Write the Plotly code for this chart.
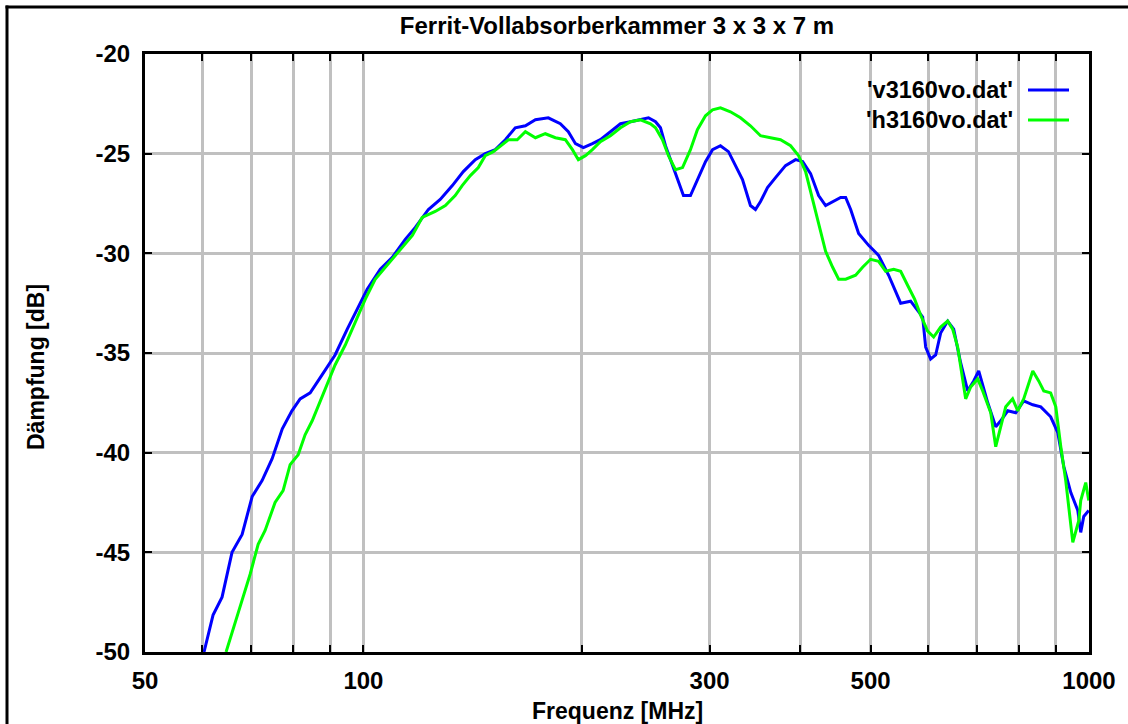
import plotly.graph_objects as go

# ---- data (frequency in MHz, attenuation in dB) ----
v_freq = [60.3, 62.05, 63.85, 65.9, 68.05, 70.25, 72.5, 74.85, 77.3, 79.7,
          81.8, 84.45, 87.7, 91.4, 95.0, 98.0, 101.2, 105.5, 109.6, 114.2,
          117.9, 122.9, 127.6, 132.6, 137.3, 142.6, 147.2, 152.0, 156.9, 161.9,
          167.2, 172.6, 179.8, 186.8, 191.6, 196.0, 201.0, 206.8, 212.1, 219.0,
          226.1, 233.4, 240.9, 247.1, 252.7, 256.7, 260.8, 266.7, 271.8, 276.1,
          282.3, 288.6, 296.1, 302.8, 310.5, 318.5, 325.6, 333.0, 341.5, 347.0,
          352.6, 360.5, 369.8, 381.7, 394.1, 403.0, 413.3, 424.0, 433.5, 443.3,
          454.7, 462.0, 469.4, 481.4, 496.9, 512.9, 529.5, 550.1, 567.8, 589.9,
          595.5, 605.0, 614.7, 624.5, 638.6, 650.9, 665.5, 680.5, 693.6, 704.7,
          725.2, 743.8, 755.7, 772.7, 792.5, 812.8, 836.6, 858.1, 885.5, 905.7,
          923.2, 943.9, 965.1, 974.1, 983.5, 999.2]
v_db = [-50.0, -48.15, -47.25, -45.0, -44.1, -42.2, -41.4, -40.3, -38.8, -37.9,
        -37.3, -37.0, -36.1, -35.1, -33.8, -32.8, -31.8, -30.8, -30.2, -29.3,
        -28.7, -27.8, -27.3, -26.6, -25.9, -25.3, -25.0, -24.8, -24.3, -23.7,
        -23.6, -23.3, -23.2, -23.5, -23.9, -24.5, -24.7, -24.5, -24.3, -23.9,
        -23.5, -23.4, -23.3, -23.2, -23.4, -23.7, -24.6, -25.6, -26.4, -27.1,
        -27.1, -26.3, -25.4, -24.8, -24.6, -24.9, -25.6, -26.3, -27.6, -27.8,
        -27.4, -26.7, -26.2, -25.6, -25.3, -25.4, -26.0, -27.1, -27.6, -27.4,
        -27.2, -27.2, -27.8, -29.0, -29.6, -30.1, -31.1, -32.5, -32.4, -33.2,
        -34.7, -35.3, -35.1, -34.0, -33.4, -33.8, -35.5, -36.9, -36.4, -35.9,
        -37.5, -38.7, -38.4, -37.9, -38.0, -37.4, -37.6, -37.7, -38.2, -39.0,
        -40.7, -42.0, -42.9, -44.0, -43.2, -42.9]

h_freq = [64.67, 66.55, 68.05, 69.8, 71.6, 73.2, 75.55, 77.5, 79.25, 81.3,
          83.1, 85.0, 87.2, 89.1, 91.4, 94.4, 97.4, 100.6, 103.8, 107.8,
          112.4, 116.8, 120.5, 125.6, 129.7, 133.8, 136.8, 140.4, 144.0, 147.2,
          151.0, 154.4, 158.4, 162.9, 167.2, 172.6, 178.1, 183.9, 189.8, 194.1,
          197.8, 202.3, 206.8, 212.1, 219.0, 226.1, 233.4, 240.9, 248.7, 252.7,
          258.3, 263.3, 269.2, 275.3, 282.3, 288.6, 296.1, 302.8, 310.5, 320.5,
          330.9, 341.5, 352.6, 364.0, 375.7, 387.9, 397.9, 406.8, 415.9, 424.0,
          433.5, 443.3, 451.8, 462.0, 476.8, 487.5, 500.0, 512.9, 524.5, 538.0,
          550.1, 562.3, 575.0, 586.1, 599.3, 610.8, 624.5, 638.6, 648.8, 659.2,
          676.1, 687.0, 702.4, 713.7, 732.1, 743.8, 755.7, 767.8, 784.7, 797.7,
          812.8, 836.6, 852.4, 866.3, 885.5, 900.0, 914.4, 928.8, 949.9, 968.2,
          974.1, 989.7, 999.2]
h_db = [-50.0, -48.6, -47.4, -46.1, -44.6, -43.9, -42.5, -41.9, -40.6, -40.1,
        -39.1, -38.4, -37.4, -36.6, -35.6, -34.6, -33.5, -32.3, -31.3, -30.6,
        -29.8, -29.1, -28.2, -27.9, -27.6, -27.1, -26.6, -26.1, -25.7, -25.1,
        -24.9, -24.6, -24.3, -24.3, -23.9, -24.2, -24.0, -24.2, -24.3, -24.8,
        -25.3, -25.1, -24.8, -24.4, -24.1, -23.7, -23.4, -23.3, -23.5, -23.7,
        -24.3, -25.1, -25.8, -25.7, -24.8, -23.8, -23.1, -22.8, -22.7, -22.9,
        -23.2, -23.6, -24.1, -24.2, -24.3, -24.6, -25.1, -25.9, -27.3, -28.6,
        -29.9, -30.7, -31.3, -31.3, -31.1, -30.7, -30.3, -30.4, -30.9, -30.8,
        -30.9, -31.6, -32.3, -33.1, -33.9, -34.2, -33.7, -33.4, -33.8, -34.7,
        -37.3, -36.7, -36.3, -36.9, -38.0, -39.7, -38.7, -37.7, -37.3, -37.9,
        -37.3, -35.9, -36.4, -36.9, -37.0, -37.7, -39.7, -41.4, -44.5, -43.4,
        -42.4, -41.5, -42.4]

x_tickvals = [50, 60, 70, 80, 90, 100, 200, 300, 400, 500, 600, 700, 800, 900, 1000]
x_ticktext = ["50", "", "", "", "", "100", "", "300", "", "500", "", "", "", "", "1000"]
y_tickvals = [-50, -45, -40, -35, -30, -25, -20]
y_ticktext = ["-50", "-45", "-40", "-35", "-30", "-25", "-20"]

title_text = "Ferrit-Vollabsorberkammer 3 x 3 x 7 m"
x_title = "Frequenz [MHz]"
y_title = "Dämpfung [dB]"
series_names = ["'v3160vo.dat'", "'h3160vo.dat'"]
series_colors = ["#0000ff", "#00ff00"]

FONT = "Liberation Sans, Arial, sans-serif"

fig = go.Figure()
fig.add_trace(go.Scatter(x=v_freq, y=v_db, mode="lines", name=series_names[0],
                         line=dict(color=series_colors[0], width=3), showlegend=False))
fig.add_trace(go.Scatter(x=h_freq, y=h_db, mode="lines", name=series_names[1],
                         line=dict(color=series_colors[1], width=3), showlegend=False))

W, H = 1128, 724
L, R, T, B = 145, 39, 54, 72
pw, ph = W - L - R, H - T - B


def px(x):
    return (x - L) / pw


def py(y):
    return (H - B - y) / ph


fig.update_layout(
    width=W, height=H,
    margin=dict(l=L, r=R, t=T, b=B, pad=0),
    paper_bgcolor="white", plot_bgcolor="white",
    font=dict(family=FONT, color="black", size=23),
    title=dict(text=title_text, x=0.5, xref="paper", xanchor="center",
               y=1 - 26 / H, yref="container", yanchor="middle",
               font=dict(family=FONT, size=24, weight="bold", color="black")),
    xaxis=dict(type="log", range=[1.69897, 3.0], tickvals=x_tickvals, ticktext=x_ticktext,
               showgrid=True, gridcolor="#c0c0c0", gridwidth=3,
               showline=True, linecolor="black", linewidth=3, mirror="ticks",
               ticks="inside", ticklen=7, tickwidth=2, tickcolor="black",
               tickfont=dict(family=FONT, size=24, weight="bold"),
               ticklabelstandoff=5, zeroline=False),
    yaxis=dict(range=[-50, -20], tickvals=y_tickvals, ticktext=y_ticktext,
               showgrid=True, gridcolor="#c0c0c0", gridwidth=3,
               showline=True, linecolor="black", linewidth=3, mirror="ticks",
               ticks="inside", ticklen=7, tickwidth=2, tickcolor="black",
               tickfont=dict(family=FONT, size=24, weight="bold"),
               ticklabelstandoff=7, zeroline=False),
    showlegend=False,
)

# axis titles
fig.add_annotation(text=x_title, xref="paper", yref="paper", x=0.5, y=py(711),
                   xanchor="center", yanchor="middle", showarrow=False,
                   font=dict(family=FONT, size=23, weight="bold"))
fig.add_annotation(text=y_title, xref="paper", yref="paper", x=px(36), y=py(367),
                   xanchor="center", yanchor="middle", showarrow=False, textangle=-90,
                   font=dict(family=FONT, size=23, weight="bold"))

# gnuplot-style key: text right-aligned, sample line to its right
for i, (name, col) in enumerate(zip(series_names, series_colors)):
    yy = 90 + 30 * i
    fig.add_annotation(text=name, xref="paper", yref="paper", x=px(1015), y=py(yy),
                       xanchor="right", yanchor="middle", showarrow=False,
                       font=dict(family=FONT, size=23.5, weight="bold"))
    fig.add_shape(type="line", xref="paper", yref="paper",
                  x0=px(1028), x1=px(1069), y0=py(yy), y1=py(yy),
                  line=dict(color=col, width=3))

# outer frame (partially cropped in the reference)
fig.add_shape(type="line", xref="paper", yref="paper", x0=px(5.5), x1=px(1140),
              y0=py(7), y1=py(7), line=dict(color="black", width=3))
fig.add_shape(type="line", xref="paper", yref="paper", x0=px(7), x1=px(7),
              y0=py(5.5), y1=py(740), line=dict(color="black", width=3))

fig.write_html("out.html", config={"displayModeBar": False},
               post_script="document.body.style.margin='0';document.body.style.overflow='hidden';")
